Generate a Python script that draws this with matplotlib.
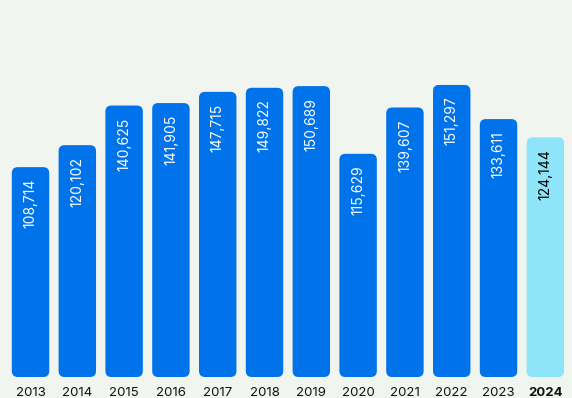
import matplotlib.pyplot as plt
from matplotlib.patches import FancyBboxPatch

years = ["2013", "2014", "2015", "2016", "2017", "2018", "2019", "2020", "2021", "2022", "2023", "2024"]
values = [108714, 120102, 140625, 141905, 147715, 149822, 150689, 115629, 139607, 151297, 133611, 124144]

bg = "#f1f5ef"
blue = "#0073ea"
light = "#8ee4f9"

plt.rcParams['font.family'] = ['Inter', 'DejaVu Sans']

fig = plt.figure(figsize=(5.72, 3.98), dpi=100, facecolor=bg)
ax = fig.add_axes([0, 21 / 398, 1, 377 / 398])
ax.set_facecolor(bg)
ax.set_xlim(-0.652, 11.57)
ax.set_ylim(0, 195300)
ax.axis("off")

width = 0.80
px_x = 1 / 46.8          # data x per pixel
px_y = 518.0             # data y per pixel
radius = 6 * px_x
aspect = px_y / px_x

for i, (yr, v) in enumerate(zip(years, values)):
    last = i == len(years) - 1
    color = light if last else blue
    patch = FancyBboxPatch((i - width / 2, 0), width, v,
                           boxstyle=f"round,pad=0,rounding_size={radius}",
                           mutation_aspect=aspect,
                           facecolor=color, edgecolor="none")
    ax.add_patch(patch)
    ax.annotate(f"{v:,}", xy=(i, v), xytext=(0, -8.5), textcoords="offset points",
                rotation=90, ha="center", va="top", fontsize=10,
                color="black" if last else "white")
    ax.annotate(yr, xy=(i, 0), xytext=(0, -7), textcoords="offset points",
                ha="center", va="top", fontsize=9.5, color="#111111",
                fontweight="bold" if last else "normal")

fig.savefig("out.png", dpi=100, facecolor=bg)
